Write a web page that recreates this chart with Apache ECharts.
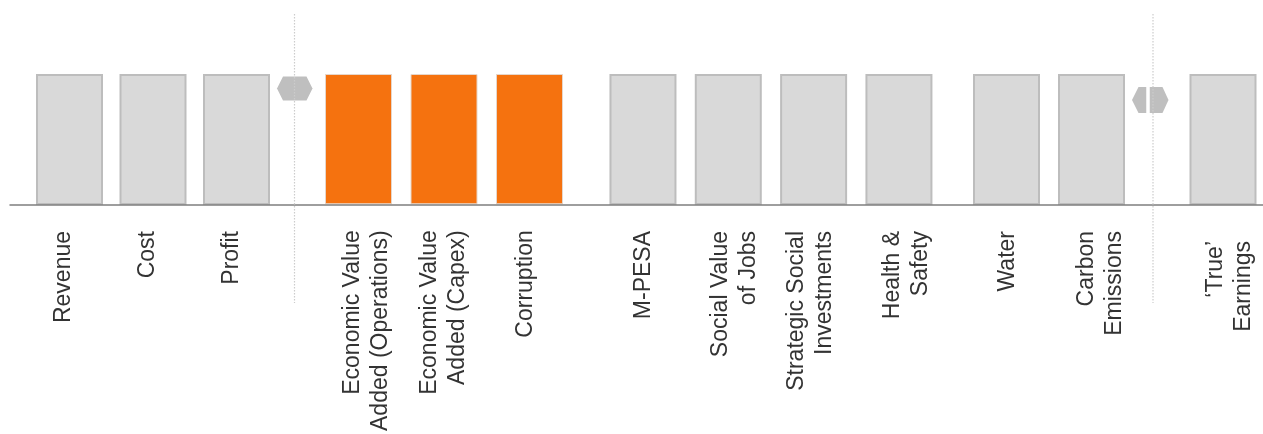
<!DOCTYPE html>
<html>
<head>
<meta charset="utf-8">
<script src="https://cdn.jsdelivr.net/npm/echarts@6/dist/echarts.min.js"></script>
<style>
  html, body { margin: 0; padding: 0; background: #fff; }
  #chart { width: 1263px; height: 434px; }
</style>
</head>
<body>
<div id="chart"></div>
<script>
// categories in left-to-right order, split into the groups below
const categories = [
  'Revenue', 'Cost', 'Profit',
  'Economic Value\nAdded (Operations)', 'Economic Value\nAdded (Capex)', 'Corruption',
  'M-PESA', 'Social Value\nof Jobs', 'Strategic Social\nInvestments', 'Health &\nSafety',
  'Water', 'Carbon\nEmissions',
  '\u2018True\u2019\nEarnings'
];
const values = [100, 100, 100, 100, 100, 100, 100, 100, 100, 100, 100, 100, 100];
const highlighted = ['Economic Value\nAdded (Operations)', 'Economic Value\nAdded (Capex)', 'Corruption'];
const groupSizes = [3, 3, 4, 2, 1];

// layout (px)
const groupBoxes = [
  { left: 27.75, width: 250.5 },
  { left: 315.75, width: 256.5 },
  { left: 600.3, width: 341.3 },
  { left: 964, width: 170 },
  { left: 1183, width: 80 }
];
// sideways nudge of each label (px, + = right) and extra gap below the axis
const labelShift = [-5.5, -5, -4.5, 8, 0, -3.5, 1, 6.7, -2.5, 8, 1.5, 9.5, 6.5];
const labelTail = [0, 0, 0, 0, 0, 0, 0, 0, 0, 0, 0, 0, 10];
const plotTop = 74;
const plotBottom = 229;

const labelFont = { fontSize: 23, lineHeight: 28, color: '#333', fontFamily: '"Liberation Sans", Arial, sans-serif' };
const grayStyle = { color: '#d9d9d9', borderColor: '#bdbdbd', borderWidth: 2 };
const orangeStyle = { color: '#f5720f', borderColor: '#e6d6ca', borderWidth: 1 };

const chart = echarts.init(document.getElementById('chart'));

// full width baseline
const grids = [{ left: 10, right: 0, top: plotTop, bottom: plotBottom }];
const xAxes = [{
  gridIndex: 0, type: 'value', min: 0, max: 1,
  axisLine: { show: true, lineStyle: { color: '#7f7f7f', width: 1.5 } },
  axisTick: { show: false }, axisLabel: { show: false }, splitLine: { show: false }, z: 5
}];
const yAxes = [{ gridIndex: 0, type: 'value', min: 0, max: 100, show: false }];
const series = [];

let start = 0;
groupSizes.forEach((n, g) => {
  const idx = g + 1;
  const first = start;
  const cats = categories.slice(first, first + n);
  const rich = {};
  cats.forEach((c, i) => {
    const s = labelShift[first + i];
    rich['k' + (first + i)] = Object.assign({}, labelFont, {
      padding: [s > 0 ? 2 * s : 0, labelTail[first + i], s < 0 ? -2 * s : 0, 0]
    });
  });
  grids.push({ left: groupBoxes[g].left, width: groupBoxes[g].width, top: plotTop, bottom: plotBottom });
  xAxes.push({
    gridIndex: idx,
    type: 'category',
    data: cats,
    axisLine: { show: false },
    axisTick: { show: false },
    axisLabel: Object.assign({
      interval: 0, rotate: 90, margin: 26,
      formatter: (value, i) => value.split('\n').map(line => '{k' + (first + i) + '|' + line + '}').join('\n'),
      rich: rich
    }, labelFont)
  });
  yAxes.push({ gridIndex: idx, type: 'value', min: 0, max: 100, show: false });
  series.push({
    type: 'bar',
    xAxisIndex: idx,
    yAxisIndex: idx,
    barWidth: 67,
    silent: true,
    data: values.slice(first, first + n).map((v, i) => ({
      value: v,
      itemStyle: highlighted.includes(cats[i]) ? orangeStyle : grayStyle
    }))
  });
  start += n;
});

const option = {
  animation: false,
  grid: grids,
  xAxis: xAxes,
  yAxis: yAxes,
  series: series,
  graphic: [
    { type: 'polygon', z: 50, shape: { points: [[277, 88.5], [283, 76.5], [306.5, 76.5], [312.5, 88.5], [306.5, 100.5], [283, 100.5]] }, style: { fill: '#bfbfbf' } },
    { type: 'polygon', z: 50, shape: { points: [[1132, 100], [1138.5, 87], [1162.5, 87], [1168.5, 100], [1162.5, 113], [1138.5, 113]] }, style: { fill: '#bfbfbf' } },
    { type: 'line', z: 51, shape: { x1: 1148, y1: 85, x2: 1148, y2: 115 }, style: { stroke: '#fff', lineWidth: 3.5 } },
    { type: 'line', z: 52, shape: { x1: 294.5, y1: 14, x2: 294.5, y2: 303 }, style: { stroke: '#cccccc', lineWidth: 1.2, lineDash: [1.5, 1.5] } },
    { type: 'line', z: 52, shape: { x1: 1153, y1: 14, x2: 1153, y2: 303 }, style: { stroke: '#cccccc', lineWidth: 1.2, lineDash: [1.5, 1.5] } }
  ]
};

option && chart.setOption(option);
</script>
</body>
</html>
